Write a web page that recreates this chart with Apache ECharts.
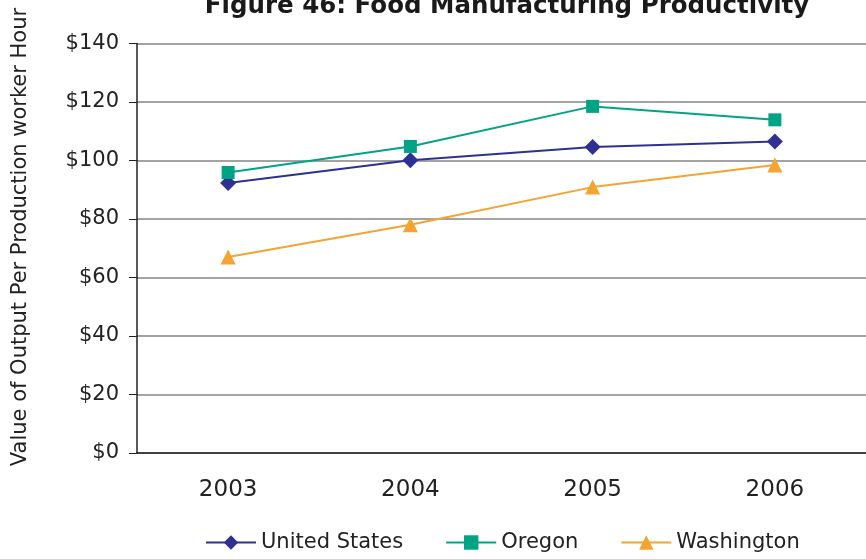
<!DOCTYPE html>
<html>
<head>
<meta charset="utf-8">
<script src="https://cdn.jsdelivr.net/npm/echarts@6/dist/echarts.min.js"></script>
<style>
  html, body { margin: 0; padding: 0; background: #fff; }
  #chart { width: 866px; height: 559px; }
</style>
</head>
<body>
<div id="chart"></div>
<script>
// data
var years = ['2003', '2004', '2005', '2006'];
var usValues = [92.3, 100.1, 104.6, 106.5];
var oregonValues = [95.9, 104.8, 118.5, 113.9];
var washingtonValues = [67.0, 78.0, 90.9, 98.5];

var font = 'DejaVu Sans';
var chart = echarts.init(document.getElementById('chart'));

function makeSeries(name, data, color, symbol, size) {
  return {
    name: name,
    type: 'line',
    data: data,
    symbol: symbol,
    symbolSize: size,
    showAllSymbol: true,
    lineStyle: { color: color, width: 2 },
    itemStyle: { color: color },
    emphasis: { disabled: true }
  }
}

var option = {
  animation: false,
  title: {
    text: 'Figure 46: Food Manufacturing Productivity',
    left: 502,
    textAlign: 'center',
    top: -11,
    textStyle: { fontFamily: font, fontWeight: 'bold', fontSize: 24.5, color: '#1a1a1a' }
  },
  graphic: [{
    type: 'text',
    rotation: Math.PI / 2,
    x: 21, y: 237,
    style: {
      text: 'Value of Output Per Production worker Hour',
      font: '21px "DejaVu Sans"',
      fill: '#222',
      align: 'center',
      verticalAlign: 'middle'
    }
  }],
  grid: { left: 137, right: -2, top: 43.5, bottom: 106 },
  legend: {
    bottom: 1,
    left: 200,
    itemWidth: 50,
    itemHeight: 18,
    itemGap: 42,
    textStyle: { fontFamily: font, fontSize: 21, color: '#222' },
    data: ['United States', 'Oregon', 'Washington']
  },
  xAxis: {
    type: 'category',
    data: years,
    boundaryGap: true,
    axisLine: { lineStyle: { color: '#222', width: 1.5 } },
    axisTick: { length: 8, lineStyle: { color: '#222' } },
    axisLabel: { fontFamily: font, fontSize: 23, color: '#222', margin: 26 }
  },
  yAxis: {
    type: 'value',
    min: 0,
    max: 140,
    interval: 20,
    axisLine: { show: true, lineStyle: { color: '#222', width: 1.5 } },
    axisTick: { show: true, length: 8, lineStyle: { color: '#222' } },
    splitLine: { lineStyle: { color: '#858585', width: 1.5 } },
    axisLabel: {
      fontFamily: font, fontSize: 21, color: '#222', margin: 18,
      formatter: function (v) { return '$' + v }
    }
  },
  series: [
    makeSeries('United States', usValues, '#2e3192', 'diamond', 16),
    makeSeries('Oregon', oregonValues, '#00a383', 'rect', 13),
    makeSeries('Washington', washingtonValues, '#f3a431', 'triangle', 15)
  ]
};
chart.setOption(option);
</script>
</body>
</html>
